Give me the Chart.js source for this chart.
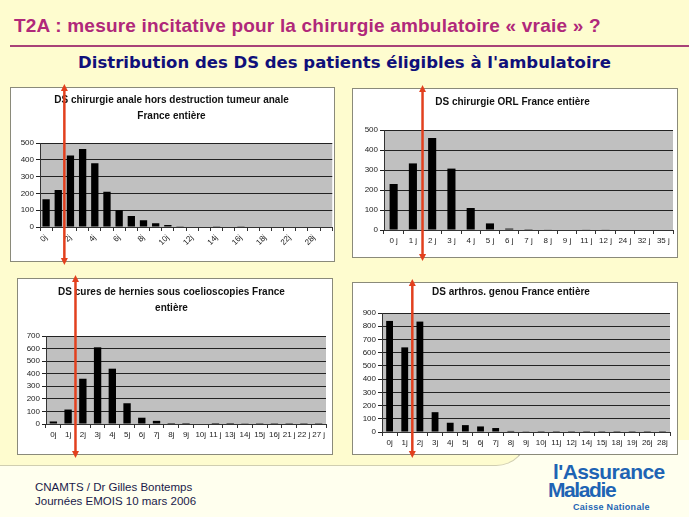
<!DOCTYPE html>
<html>
<head>
<meta charset="utf-8">
<script src="https://cdn.jsdelivr.net/npm/chart.js@4"></script>
<style>
  body { margin: 0; width: 689px; height: 517px; overflow: hidden; background: #FFFFEE; font-family: "Liberation Sans", Arial, sans-serif; }
  .panel { position: absolute; background: #FEFCCF; }
  .box { position: absolute; background: #fff; border: 1px solid #8a8a7a; box-sizing: border-box; }
  .cv { position: absolute; }
  .txt { position: absolute; white-space: nowrap; }
</style>
</head>
<body>
<div class="panel" style="left:0;top:0;width:528px;height:466px;border-bottom:1px solid #d0ceb0;border-right:1px solid #b8b6a4;border-bottom-right-radius:32px;box-sizing:border-box;"></div>
<div class="panel" style="left:0;top:0;width:689px;height:440px;"></div>

<div class="txt" style="left:14px;top:15px;font-size:19px;font-weight:bold;letter-spacing:0.2px;color:#B0287A;">T2A : mesure incitative pour la chirurgie ambulatoire « vraie » ?</div>
<div style="position:absolute;left:10px;top:45px;width:679px;height:2px;background:#A84278;"></div>
<div class="txt" style="left:0;width:689px;text-align:center;top:53px;font-family:'DejaVu Sans';font-size:16.5px;font-weight:bold;color:#10107A;">Distribution des DS des patients éligibles à l'ambulatoire</div>

<div class="box" style="left:10px;top:87px;width:325px;height:175px;"></div>
<div class="box" style="left:352px;top:88px;width:326px;height:170px;"></div>
<div class="box" style="left:17px;top:278px;width:316px;height:177px;"></div>
<div class="box" style="left:352px;top:282px;width:326px;height:173px;"></div>

<div class="cv" style="left:10px;top:84px;width:325px;height:181px;"><canvas id="c1"></canvas></div>
<div class="cv" style="left:352px;top:85px;width:326px;height:176px;"><canvas id="c2"></canvas></div>
<div class="cv" style="left:17px;top:275px;width:316px;height:183px;"><canvas id="c3"></canvas></div>
<div class="cv" style="left:352px;top:279px;width:326px;height:179px;"><canvas id="c4"></canvas></div>

<div class="txt" style="left:35px;top:481px;font-size:11.5px;color:#1A1A4A;">CNAMTS / Dr Gilles Bontemps</div>
<div class="txt" style="left:35px;top:495px;font-size:11.5px;color:#1A1A4A;">Journées EMOIS 10 mars 2006</div>
<div class="txt" style="left:553px;top:460px;font-size:21px;font-weight:bold;color:#1E64B4;letter-spacing:-0.6px;">l'Assurance</div>
<div class="txt" style="left:548px;top:478px;font-size:21px;font-weight:bold;color:#1E64B4;letter-spacing:-1.4px;">Maladie</div>
<div class="txt" style="left:573px;top:502px;font-size:9px;font-weight:bold;color:#1E64B4;letter-spacing:0.3px;">Caisse Nationale</div>

<script>
// DS chirurgie anale
const analeLabels = ['0j','1j','2j','3j','4j','5j','6j','7j','8j','9j','10j','11j','12j','13j','14j','15j','16j','17j','18j','19j','22j','24j','28j','35j'];
const analeValues = [165, 220, 425, 465, 380, 210, 100, 65, 40, 22, 12, 5, 0, 0, 2, 0, 2, 0, 0, 0, 0, 0, 0, 0];

// DS chirurgie ORL
const orlLabels = ['0 j','1 j','2 j','3 j','4 j','5 j','6 j','7 j','8 j','9 j','11 j','12 j','24 j','32 j','35 j'];
const orlValues = [230, 333, 460, 307, 110, 33, 7, 4, 3, 0, 3, 3, 0, 0, 0];

// DS cures de hernies
const hernieLabels = ['0j','1j','2j','3j','4j','5j','6j','7j','8j','9j','10j','11 j','13j','14j','15j','16j','21 j','22 j','27 j'];
const hernieValues = [20, 115, 360, 610, 440, 165, 50, 25, 8, 8, 0, 8, 8, 2, 1, 1, 1, 1, 1];

// DS arthros. genou
const genouLabels = ['0j','1j','2j','3j','4j','5j','6j','7j','8j','9j','10j','11j','12j','14j','15j','18j','19j','26j','28j'];
const genouValues = [840, 640, 835, 150, 70, 52, 42, 30, 8, 2, 1, 1, 1, 1, 1, 1, 1, 1, 1];

const plotBg = {
  id: 'plotBg',
  beforeDraw(chart) {
    const a = chart.chartArea, ctx = chart.ctx;
    ctx.save();
    ctx.fillStyle = '#C0C0C0';
    ctx.fillRect(a.left, a.top, a.right - a.left, a.bottom - a.top);
    ctx.restore();
  }
};

const redArrow = {
  id: 'redArrow',
  afterDraw(chart) {
    const xs = chart.scales.x, ctx = chart.ctx;
    const x = (xs.getPixelForValue(1) + xs.getPixelForValue(2)) / 2;
    const h = chart.height;
    ctx.save();
    ctx.strokeStyle = '#E2401E';
    ctx.fillStyle = '#E2401E';
    ctx.lineWidth = 2.5;
    ctx.beginPath();
    ctx.moveTo(x, 5); ctx.lineTo(x, h - 5);
    ctx.stroke();
    ctx.beginPath();
    ctx.moveTo(x, 0); ctx.lineTo(x - 3.5, 7); ctx.lineTo(x + 3.5, 7); ctx.closePath(); ctx.fill();
    ctx.beginPath();
    ctx.moveTo(x, h); ctx.lineTo(x - 3.5, h - 7); ctx.lineTo(x + 3.5, h - 7); ctx.closePath(); ctx.fill();
    ctx.restore();
  }
};

function makeChart(id, labels, values, cfg) {
  return new Chart(document.getElementById(id), {
    type: 'bar',
    data: {
      labels: labels,
      datasets: [{ data: values, backgroundColor: '#000', barPercentage: cfg.bar, categoryPercentage: 1 }]
    },
    options: {
      responsive: true,
      maintainAspectRatio: false,
      animation: false,
      layout: { padding: { left: 0, right: cfg.right, top: 0, bottom: 0 } },
      plugins: {
        legend: { display: false },
        tooltip: { enabled: false },
        title: {
          display: true,
          text: cfg.title,
          color: '#111',
          font: { family: 'Liberation Sans', size: 10, weight: 'bold', lineHeight: 1.62 },
          padding: { top: cfg.tTop, bottom: cfg.tBottom }
        }
      },
      scales: {
        x: {
          afterFit: s => { s.height = cfg.xH; },
          grid: { offset: true, drawOnChartArea: false, tickLength: 4, color: '#333' },
          border: { color: '#333' },
          ticks: {
            color: '#222',
            font: { family: 'Liberation Sans', size: 8 },
            autoSkip: false,
            maxRotation: cfg.rot, minRotation: cfg.rot,
            padding: 2,
            callback: function (v, i) { return (cfg.every && i % cfg.every) ? '' : this.getLabelForValue(v); }
          }
        },
        y: {
          min: 0, max: cfg.max,
          afterFit: s => { s.width = cfg.yW; },
          grid: { color: '#222', tickLength: 4 },
          border: { color: '#333' },
          ticks: { stepSize: cfg.step, autoSkip: false, color: '#222', font: { family: 'Liberation Sans', size: 8 }, padding: 2 }
        }
      }
    },
    plugins: [plotBg, redArrow]
  });
}

makeChart('c1', analeLabels, analeValues, {
  title: ['DS chirurgie anale hors destruction tumeur anale', 'France entière'],
  max: 500, step: 100, bar: 0.6, rot: 45, every: 2,
  right: 2, yW: 30, xH: 38, tTop: 8, tBottom: 18.6
});
makeChart('c2', orlLabels, orlValues, {
  title: 'DS chirurgie ORL France entière',
  max: 500, step: 100, bar: 0.42, rot: 0, every: 0,
  right: 5, yW: 32, xH: 31, tTop: 9, tBottom: 19.8
});
makeChart('c3', hernieLabels, hernieValues, {
  title: ['DS cures de hernies sous coelioscopies France', 'entière'],
  max: 700, step: 100, bar: 0.5, rot: 0, every: 0,
  right: 7, yW: 29, xH: 34, tTop: 9, tBottom: 19.6
});
makeChart('c4', genouLabels, genouValues, {
  title: 'DS arthros. genou France entière',
  max: 900, step: 100, bar: 0.45, rot: 0, every: 0,
  right: 8, yW: 30, xH: 26, tTop: 5, tBottom: 12.8
});
</script>
</body>
</html>
